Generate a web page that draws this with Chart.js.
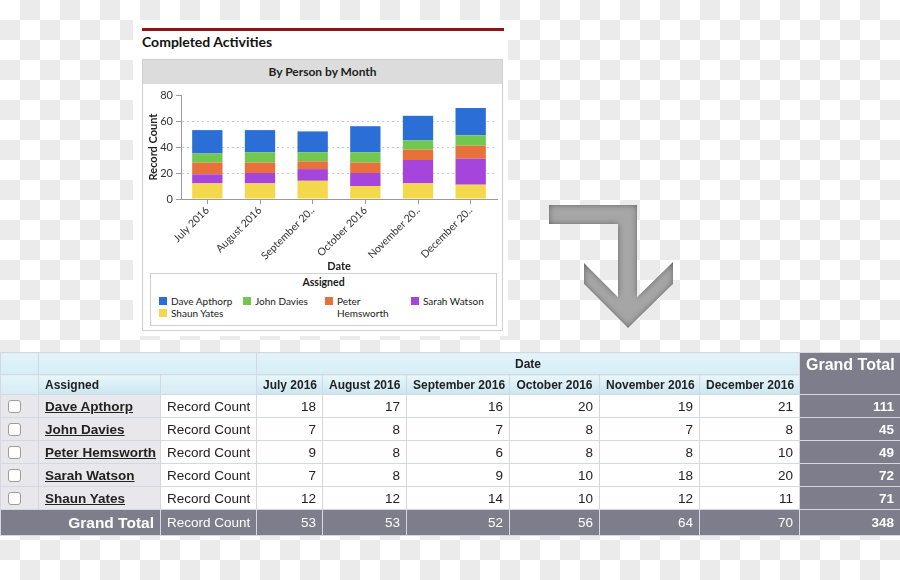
<!DOCTYPE html>
<html>
<head>
<meta charset="utf-8">
<script src="https://cdn.jsdelivr.net/npm/chart.js@4.4.1/dist/chart.umd.min.js"></script>
<style>
  body {
    margin: 0; width: 900px; height: 580px; overflow: hidden; position: relative;
    background: repeating-conic-gradient(#ebebeb 0 25%, #fff 0 50%) 0 0 / 40px 40px;
    font-family: Lato, "Noto Sans", sans-serif;
  }
  #card { position: absolute; left: 133px; top: 20px; width: 375px; height: 316px; background: #fff; }
  #redline { position: absolute; left: 142px; top: 28px; width: 362px; height: 3px; background: #8e1517; }
  #title { position: absolute; left: 142px; top: 33px; font-weight: 700; font-size: 14px; color: #111; }
  #box { position: absolute; left: 142px; top: 59px; width: 359px; height: 270px; border: 1px solid #d0d0d0; background: #fff; }
  #boxhead { height: 24px; background: #dcdcdc; text-align: center; font-weight: 700; font-size: 12px; line-height: 24px; color: #222; }
  #chartWrap { position: absolute; left: 144px; top: 84px; }
  #legend { position: absolute; left: 150px; top: 273px; width: 345px; height: 51px; border: 1px solid #cfcfcf; font-size: 10px; color: #1a1a1a; }
  #legend .head { text-align: center; font-weight: 700; font-size: 10.5px; margin-top: 2px; height: 16px; }
  #legend .items { display: grid; grid-template-columns: 84px 82px 86px 90px; grid-auto-rows: 12px; padding-left: 8px; margin-top: 3px; }
  #legend .item { display: flex; align-items: flex-start; line-height: 12px; height: 12px; overflow: visible; }
  #legend .sw { width: 8px; height: 8px; margin: 2px 4px 0 0; flex: none; }
  #legend .txt { max-width: 68px; }
  #arrow { position: absolute; left: 0; top: 0; }
  #tbl {
    position: absolute; left: 0; top: 352px; width: 900px; border-collapse: collapse; table-layout: fixed;
    font-family: "Liberation Sans", Arial, sans-serif; font-size: 13.5px; color: #222;
  }
  #tbl td { border: 1px solid #d4d9df; padding: 0 6px; white-space: nowrap; overflow: hidden; }
  #tbl tr.h1 { height: 22px; }
  #tbl tr.h2 { height: 20px; }
  #tbl tr.d { height: 23px; }
  #tbl tr.gt { height: 26px; }
  #tbl .hd1 { background: linear-gradient(#e4f3f9, #d6edf5); font-weight: 700; font-size: 12px; text-align: center; }
  #tbl .hd2 { background: linear-gradient(#eaf6fb, #c9e6f0); font-weight: 700; font-size: 12px; text-align: center; }
  #tbl .hdA { text-align: left; }
  #tbl .lg { background: #e8e8ec; }
  #tbl .name { font-weight: 700; text-decoration: underline; padding-left: 6px; }
  #tbl .num { text-align: right; background: #fff; }
  #tbl .rc { background: #fff; }
  #tbl .gcol { background: #7d7d8b; color: #fff; font-weight: 700; text-align: right; }
  #tbl .gtop { background: #7d7d8b; color: #fff; font-weight: 700; font-size: 16px; text-align: center; vertical-align: top; padding-top: 3px; }
  #tbl tr.gt td { background: #7d7d8b; color: #fff; }
  #tbl .gtl { font-weight: 700; font-size: 15.5px; text-align: right; }
  #tbl .cb { padding: 0; }
  #tbl .cb span { display: block; width: 11px; height: 11px; margin-left: 7px; border: 1px solid #9c9c9c; border-radius: 3px; background: #fff; }
</style>
</head>
<body>
<div id="card"></div>
<div id="redline"></div>
<div id="title">Completed Activities</div>
<div id="box"><div id="boxhead">By Person by Month</div></div>
<div id="chartWrap"><canvas id="chart" width="358" height="189"></canvas></div>
<div id="legend"><div class="head">Assigned</div><div class="items" id="legendItems"></div></div>

<svg id="arrow" width="900" height="580">
  <defs>
    <filter id="bev" x="-10%" y="-10%" width="120%" height="120%">
      <feGaussianBlur in="SourceAlpha" stdDeviation="3" result="b"/>
      <feComposite in="b" in2="SourceAlpha" operator="arithmetic" k1="0" k2="-1" k3="1" k4="0" result="inner"/>
      <feFlood flood-color="#555"/>
      <feComposite in2="inner" operator="in" result="shadow"/>
      <feComposite in="shadow" in2="SourceGraphic" operator="over"/>
    </filter>
  </defs>
  <polygon filter="url(#bev)" fill="#a6a6a6"
    points="549,205 637,205 637,297 673,262 673,284 628,328 584,284 584,263 618,297 618,224 549,224"/>
</svg>

<table id="tbl"></table>

<script>
// chart / table data
const months = ['July 2016', 'August 2016', 'September 2016', 'October 2016', 'November 2016', 'December 2016'];
const axisLabels = ['July 2016', 'August 2016', 'September 20..', 'October 2016', 'November 20..', 'December 20..'];
const people = ['Dave Apthorp', 'John Davies', 'Peter Hemsworth', 'Sarah Watson', 'Shaun Yates'];
const daveApthorp = [18, 17, 16, 20, 19, 21];
const johnDavies = [7, 8, 7, 8, 7, 8];
const peterHemsworth = [9, 8, 6, 8, 8, 10];
const sarahWatson = [7, 8, 9, 10, 18, 20];
const shaunYates = [12, 12, 14, 10, 12, 11];
const yTicks = [0, 20, 40, 60, 80];

const series = [daveApthorp, johnDavies, peterHemsworth, sarahWatson, shaunYates];
const colors = ['#2b6fd6', '#72c84f', '#e8703a', '#a645dc', '#f4d84b'];

// stacked bottom-up: Shaun, Sarah, Peter, John, Dave
const datasets = [];
for (let i = people.length - 1; i >= 0; i--) {
  datasets.push({
    label: people[i],
    data: series[i],
    backgroundColor: colors[i],
    barPercentage: 0.72,
    categoryPercentage: 0.8
  });
}

const axisColor = '#9a9a9a';
new Chart(document.getElementById('chart'), {
  type: 'bar',
  data: { labels: axisLabels, datasets: datasets },
  options: {
    responsive: false,
    animation: false,
    layout: { padding: { left: 3, right: 5, top: 11, bottom: 0 } },
    plugins: { legend: { display: false }, tooltip: { enabled: false } },
    scales: {
      x: {
        stacked: true,
        afterFit: s => { s.height = 74; },
        grid: { drawOnChartArea: false, offset: false, tickLength: 5, tickColor: axisColor },
        border: { color: axisColor },
        ticks: { minRotation: 45, maxRotation: 45, autoSkip: false, color: '#333', padding: 0,
                 font: { family: 'Lato', size: 10.5 } },
        title: { display: true, text: 'Date', color: '#222', padding: { top: 0, bottom: 0 },
                 font: { family: 'Lato', size: 11, weight: 'bold' } }
      },
      y: {
        stacked: true,
        min: yTicks[0],
        max: yTicks[yTicks.length - 1],
        afterBuildTicks: s => { s.ticks = yTicks.map(v => ({ value: v })); },
        afterFit: s => { s.width = 34; },
        grid: {
          color: c => (c.tick && c.tick.value > 0 && c.tick.value < 80) ? '#c9c9c9' : 'rgba(0,0,0,0)',
          tickColor: axisColor, tickLength: 5, tickBorderDash: []
        },
        border: { color: axisColor, dash: [2, 3] },
        ticks: { color: '#333', padding: 3, font: { family: 'Lato', size: 11 } },
        title: { display: true, text: 'Record Count', color: '#222', padding: { top: 0, bottom: 2 },
                 font: { family: 'Lato', size: 11, weight: 'bold' } }
      }
    }
  }
});

// legend
const legendItems = document.getElementById('legendItems');
people.forEach((p, i) => {
  const d = document.createElement('div');
  d.className = 'item';
  d.innerHTML = '<span class="sw" style="background:' + colors[i] + '"></span><span class="txt">' + p + '</span>';
  legendItems.appendChild(d);
});

// table
const colWidths = [38, 122, 96, 66, 84, 103, 90, 100, 100, 101];
const tbl = document.getElementById('tbl');
let html = '<colgroup>' + colWidths.map(w => '<col style="width:' + w + 'px">').join('') + '</colgroup>';
html += '<tr class="h1"><td class="hd1"></td><td class="hd1" colspan="2"></td>' +
        '<td class="hd1" colspan="' + months.length + '">Date</td>' +
        '<td class="gtop" rowspan="2">Grand Total</td></tr>';
html += '<tr class="h2"><td class="hd1"></td><td class="hd2 hdA">Assigned</td><td class="hd1"></td>' +
        months.map(m => '<td class="hd2">' + m + '</td>').join('') + '</tr>';
const colTotals = months.map(() => 0);
people.forEach((p, i) => {
  const rowTotal = series[i].reduce((a, b) => a + b, 0);
  series[i].forEach((v, j) => colTotals[j] += v);
  html += '<tr class="d"><td class="lg cb"><span></span></td><td class="lg name">' + p + '</td>' +
          '<td class="rc">Record Count</td>' +
          series[i].map(v => '<td class="num">' + v + '</td>').join('') +
          '<td class="gcol">' + rowTotal + '</td></tr>';
});
const grand = colTotals.reduce((a, b) => a + b, 0);
html += '<tr class="gt"><td colspan="2" class="gtl">Grand Total</td><td>Record Count</td>' +
        colTotals.map(v => '<td style="text-align:right">' + v + '</td>').join('') +
        '<td style="text-align:right;font-weight:700">' + grand + '</td></tr>';
tbl.innerHTML = html;
</script>
</body>
</html>
